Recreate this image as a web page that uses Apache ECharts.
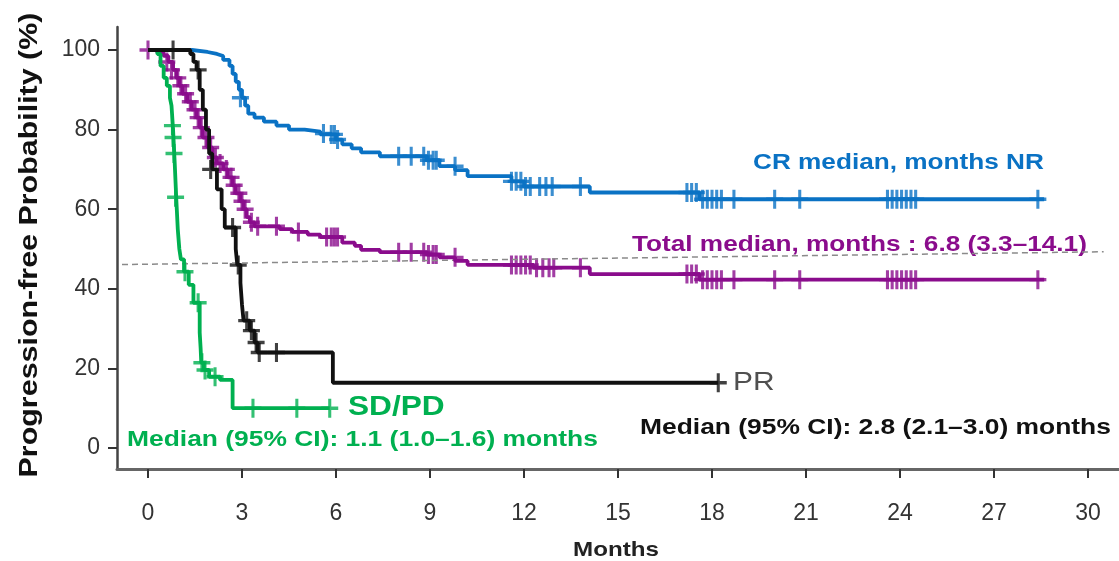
<!DOCTYPE html>
<html>
<head>
<meta charset="utf-8">
<script src="https://cdn.jsdelivr.net/npm/echarts@6/dist/echarts.min.js"></script>
<style>
  html, body { margin: 0; padding: 0; background: #fff; }
  #main { width: 1119px; height: 561px; }
</style>
</head>
<body>
<div id="main"></div>
<script>
// Kaplan-Meier steps: [month, survival % after the step]
var crSteps = [[0,100],[1.4,99.5],[1.9,99],[2.2,98.5],[2.4,97.5],[2.6,96],[2.7,94],[2.8,92],[2.9,90],[3.0,88],[3.1,86],[3.2,84],[3.4,83],[3.7,82],[4.1,81],[4.5,80],[5.0,79.5],[5.5,78.8],[6.0,77.5],[6.2,76.3],[6.5,75.3],[6.8,74.3],[7.4,73.3],[8.9,72.3],[9.3,70.8],[9.8,69.8],[10.2,68.3],[11.6,67],[12.0,65.7],[14.1,64.2],[17.6,62.5],[28.6,62.5]]
var crCensor = [[2.95,88],[5.6,79],[5.85,78.8],[5.95,78.8],[6.05,77.5],[8.0,73.3],[8.4,73.3],[8.8,73.3],[8.95,72.3],[9.1,72.3],[9.2,72.3],[9.8,70.8],[11.6,67],[11.75,67],[11.9,67],[12.05,65.7],[12.2,65.7],[12.5,65.7],[12.7,65.7],[12.9,65.7],[13.8,65.7],[17.2,64.2],[17.35,64.2],[17.5,64.2],[17.7,62.5],[17.85,62.5],[18.0,62.5],[18.15,62.5],[18.3,62.5],[18.7,62.5],[20.0,62.5],[20.8,62.5],[23.6,62.5],[23.75,62.5],[23.9,62.5],[24.05,62.5],[24.2,62.5],[24.35,62.5],[24.5,62.5],[28.4,62.5]]

var totalSteps = [[0,100],[0.3,99.3],[0.5,98.5],[0.65,97],[0.8,95],[0.9,93],[1.0,91],[1.1,89],[1.25,87],[1.4,85],[1.55,83],[1.65,80.5],[1.75,78],[1.9,75.5],[2.05,73],[2.2,71.5],[2.4,70],[2.55,68],[2.7,66],[2.8,64],[2.95,62],[3.05,60],[3.15,58],[3.25,56.7],[3.4,55.7],[4.2,55],[4.6,54.3],[5.1,53.6],[5.5,53],[6.2,51.6],[6.6,50.8],[6.8,49.8],[7.4,49.2],[8.9,48.6],[9.3,47.9],[9.8,47],[10.2,46],[12.3,45.3],[14.1,43.7],[17.6,42.3],[28.6,42.3]]
var totalCensor = [[0,100],[0.6,97],[0.75,95],[0.95,93],[1.05,91],[1.2,89],[1.35,87],[1.5,85],[1.6,83],[1.7,80.5],[1.85,78],[2.0,75.5],[2.15,73],[2.3,71.5],[2.5,70],[2.65,68],[2.75,66],[2.9,64],[3.0,62],[3.1,60],[3.3,56.7],[3.5,55.7],[4.1,55.7],[4.8,54.3],[5.7,53],[5.85,53],[5.95,53],[6.05,53],[8.0,49.2],[8.4,49.2],[8.8,49.2],[8.95,48.6],[9.1,48.6],[9.2,48.6],[9.8,47.9],[11.6,46],[11.75,46],[11.9,46],[12.05,46],[12.2,46],[12.4,45.3],[12.6,45.3],[12.8,45.3],[12.95,45.3],[13.8,45.3],[17.2,43.7],[17.35,43.7],[17.5,43.7],[17.7,42.3],[17.85,42.3],[18.0,42.3],[18.15,42.3],[18.3,42.3],[18.7,42.3],[20.0,42.3],[20.8,42.3],[23.6,42.3],[23.75,42.3],[23.9,42.3],[24.05,42.3],[24.2,42.3],[24.35,42.3],[24.5,42.3],[28.4,42.3]]

var prSteps = [[0,100],[1.35,99],[1.45,97],[1.55,95],[1.65,90],[1.75,85],[1.85,80],[1.95,74],[2.05,70],[2.2,65],[2.35,60],[2.45,55.4],[2.8,50],[2.85,46],[2.95,41.5],[3.0,36],[3.05,32],[3.25,29.5],[3.4,26.5],[3.5,24],[5.9,16.4],[18.2,16.4]]
var prCensor = [[0.8,100],[1.6,95],[2.0,70],[2.7,55.4],[2.88,46],[3.15,32],[3.3,29.5],[3.45,26.5],[3.55,24],[4.1,24],[18.2,16.4]]

var sdSteps = [[0,100],[0.3,99],[0.4,96],[0.5,93],[0.6,91],[0.7,88],[0.75,86],[0.8,80],[0.85,72],[0.9,63],[0.95,55],[1.0,50],[1.05,47.4],[1.15,44.3],[1.3,41],[1.45,36.5],[1.65,29],[1.68,25],[1.7,21.4],[1.78,19.6],[1.95,17.9],[2.3,17.1],[2.7,10],[5.8,10]]
var sdCensor = [[0.78,81],[0.8,78],[0.83,74],[0.88,63],[1.18,44.3],[1.6,36.5],[1.72,21.4],[1.82,19.6],[2.14,17.9],[3.35,10],[4.75,10],[5.8,10]]

// dashed reference line (drawn on the frame axes)
var medianRef = [[-0.83,46.1],[30.5,49.3]]

var xMin = 0, xMax = 30, xStep = 3
var yMin = 0, yMax = 100, yStep = 20

var BLUE = '#0a72c4'
var PURPLE = '#8a0c8c'
var BLACK = '#111111'
var GREEN = '#00b050'
var PLUS = 'path://M0,8.2H20V11.8H0Z M8.2,0H11.8V20H8.2Z'
var FONT = '"Liberation Sans", Arial, sans-serif'

function curve (data, color) {
  return {
    type: 'line', step: 'end', data: data, symbol: 'none',
    lineStyle: { color: color, width: 3.8 }, clip: false, silent: true
  }
}
function censor (data, color) {
  return {
    type: 'scatter', data: data, symbol: PLUS, symbolSize: [17, 19],
    itemStyle: { color: color }, clip: false, silent: true
  }
}
function label (text, x, y, size, color, sx, bold, align) {
  return {
    type: 'text', x: x, y: y, scaleX: sx, silent: true,
    style: {
      text: text, fill: color, textAlign: align || 'left', textVerticalAlign: 'middle',
      font: (bold ? 'bold ' : '') + size + 'px ' + FONT
    }
  }
}

var myChart = echarts.init(document.getElementById('main'))

var option = {
  animation: false,
  backgroundColor: '#fff',
  grid: [
    { left: 148, right: 31, top: 50, bottom: 113 },
    { left: 117, right: 0, top: 27, bottom: 92 }
  ],
  xAxis: [
    {
      type: 'value', gridIndex: 0, min: xMin, max: xMax, interval: xStep, offset: 21,
      axisLine: { show: false, onZero: false },
      axisTick: { show: true, length: 9, lineStyle: { color: '#333', width: 2 } },
      axisLabel: { fontSize: 23, color: '#333', margin: 33, fontFamily: FONT },
      splitLine: { show: false }
    },
    {
      type: 'value', gridIndex: 1, min: -0.989, max: 30.99,
      axisLine: { show: true, onZero: false, lineStyle: { color: '#666', width: 3 } },
      axisTick: { show: false }, axisLabel: { show: false }, splitLine: { show: false }
    }
  ],
  yAxis: [
    {
      type: 'value', gridIndex: 0, min: yMin, max: yMax, interval: yStep, offset: 31,
      axisLine: { show: false, onZero: false },
      axisTick: { show: true, length: 9, lineStyle: { color: '#333', width: 2 } },
      axisLabel: { fontSize: 23, color: '#333', margin: 17, fontFamily: FONT },
      splitLine: { show: false }
    },
    {
      type: 'value', gridIndex: 1, min: -5.28, max: 105.78,
      axisLine: { show: true, onZero: false, lineStyle: { color: '#444', width: 2.5 } },
      axisTick: { show: false }, axisLabel: { show: false }, splitLine: { show: false }
    }
  ],
  series: [
    {
      type: 'line', xAxisIndex: 1, yAxisIndex: 1, data: medianRef, symbol: 'none', silent: true,
      lineStyle: { color: '#8a8a8a', width: 1.5, type: [6, 4] }
    },
    curve(totalSteps, PURPLE), censor(totalCensor, PURPLE),
    curve(crSteps, BLUE), censor(crCensor, BLUE),
    curve(sdSteps, GREEN), censor(sdCensor, GREEN),
    curve(prSteps, BLACK), censor(prCensor, BLACK)
  ],
  graphic: [
    label('CR median, months NR', 753, 163, 22, BLUE, 1.19, true),
    label('Total median, months : 6.8 (3.3\u201314.1)', 632, 245, 22, PURPLE, 1.19, true),
    label('PR', 733, 383, 26, '#505050', 1.15, false),
    label('Median (95% CI): 2.8 (2.1\u20133.0) months', 640, 428, 22, BLACK, 1.2, true),
    label('SD/PD', 348, 407, 28, GREEN, 1.13, true),
    label('Median (95% CI): 1.1 (1.0\u20131.6) months', 127, 440, 22, GREEN, 1.2, true),
    label('Months', 616, 550, 21, '#222', 1.15, true, 'center'),
    {
      type: 'text', x: 30, y: 245, rotation: Math.PI / 2, scaleX: 1.17, silent: true,
      style: {
        text: 'Progression-free Probability (%)', fill: BLACK, textAlign: 'center',
        textVerticalAlign: 'middle', font: 'bold 26px ' + FONT
      }
    }
  ]
}

myChart.setOption(option)

window.onresize = function () {
  myChart.resize()
}
</script>
</body>
</html>
